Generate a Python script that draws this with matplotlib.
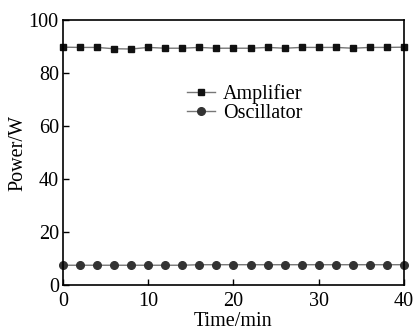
import matplotlib
matplotlib.use("Agg")
import matplotlib.pyplot as plt
import numpy as np

# data
time_min = np.arange(0, 41, 2)
amplifier = [89.8, 89.7, 89.7, 89.2, 89.1, 89.7, 89.4, 89.4, 89.7, 89.4, 89.4,
             89.4, 89.7, 89.4, 89.7, 89.7, 89.7, 89.4, 89.7, 89.7, 89.8]
oscillator = [7.5, 7.5, 7.5, 7.5, 7.5, 7.5, 7.5, 7.5, 7.7, 7.7, 7.7,
              7.7, 7.7, 7.7, 7.7, 7.7, 7.7, 7.7, 7.7, 7.7, 7.7]

plt.rcParams["font.family"] = ["Liberation Serif", "DejaVu Serif"]

fig = plt.figure(figsize=(4.14, 3.3), dpi=100)
ax = fig.add_axes([0.152, 0.136, 0.824, 0.803])

ax.plot(time_min, amplifier, color="#777777", lw=1.0, marker="s", ms=5,
        mfc="#111111", mec="#111111", label="Amplifier", clip_on=False)
ax.plot(time_min, oscillator, color="#777777", lw=1.0, marker="o", ms=5.5,
        mfc="#333333", mec="#333333", label="Oscillator", clip_on=False)

ax.set_xlim(0, 40)
ax.set_ylim(0, 100)
ax.set_xticks([0, 10, 20, 30, 40])
ax.set_yticks([0, 20, 40, 60, 80, 100])
ax.tick_params(direction="in", labelsize=14.5, length=4, width=1)
ax.tick_params(axis="x", pad=5)
ax.tick_params(axis="y", pad=3)
for s in ax.spines.values():
    s.set_linewidth(1.2)

ax.set_xlabel("Time/min", fontsize=14.5, labelpad=0.5)
ax.set_ylabel("Power/W", fontsize=14.5, labelpad=1)

ax.legend(loc="upper left", bbox_to_anchor=(0.334, 0.796), frameon=False,
          fontsize=14.5, handlelength=1.4, handletextpad=0.4, labelspacing=0.0,
          borderpad=0)

fig.savefig("out.png", dpi=100)
